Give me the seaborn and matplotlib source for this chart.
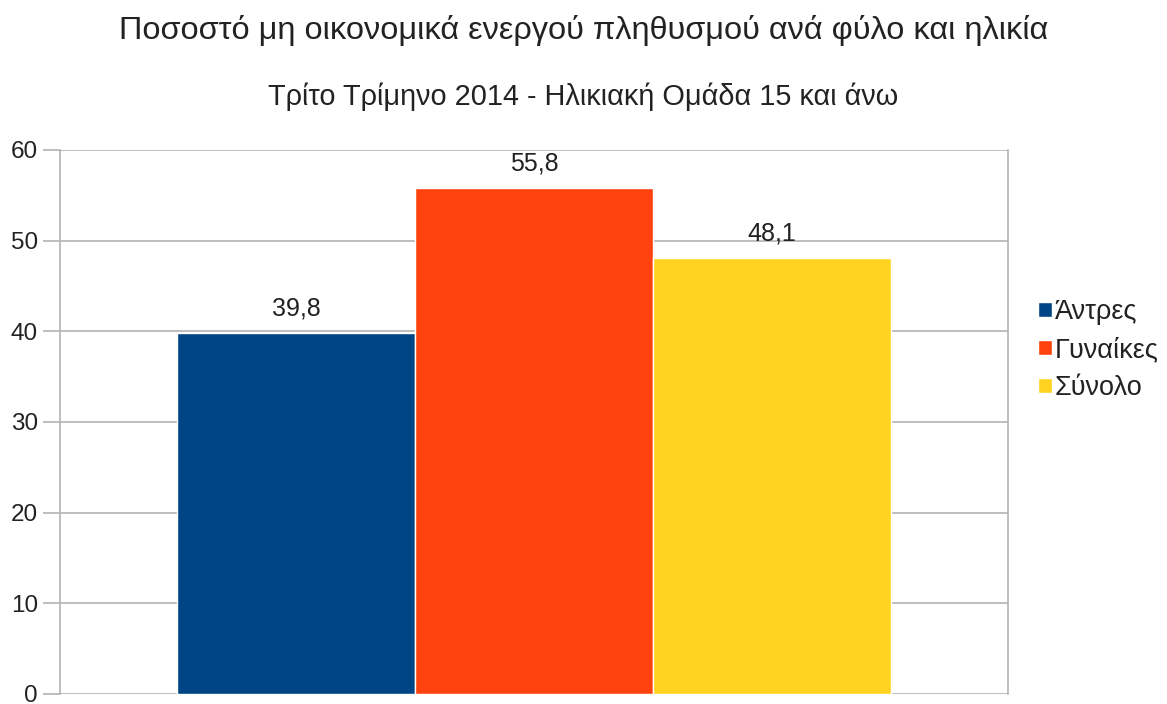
import pandas as pd
import matplotlib.pyplot as plt
import seaborn as sns

sns.set_style("white")
plt.rcParams['font.family'] = ['Liberation Sans', 'DejaVu Sans']

# data
group = ["Τρίτο Τρίμηνο 2014"]
series = ["Άντρες", "Γυναίκες", "Σύνολο"]
values = [39.8, 55.8, 48.1]
colors = ["#004586", "#ff420e", "#ffd320"]

df = pd.DataFrame({
    "Ομάδα": group * len(series),
    "Φύλο": series,
    "Ποσοστό": values,
})

fig = plt.figure(figsize=(11.67, 7.04), dpi=100)
ax = fig.add_axes([60 / 1167, 10 / 704, 948 / 1167, 544 / 704])

sns.barplot(data=df, x="Ομάδα", y="Ποσοστό", hue="Φύλο", palette=colors,
            width=0.753, gap=0, saturation=1, ax=ax, errorbar=None)

for cont, v in zip(ax.containers, values):
    ax.bar_label(cont, labels=[f"{v:.1f}".replace(".", ",")], padding=9,
                 fontsize=18, color="#222222")

ax.set_ylim(0, 60)
ax.set_yticks(range(0, 61, 10))
ax.set_xticks([])
ax.set_xlabel("")
ax.set_ylabel("")
ax.yaxis.grid(True, color="#b3b3b3", linewidth=1.2)
ax.set_axisbelow(True)
for s in ["left", "right"]:
    ax.spines[s].set_color("#b3b3b3")
    ax.spines[s].set_linewidth(1.2)
ax.spines["top"].set_visible(False)
ax.spines["bottom"].set_visible(False)
ax.tick_params(axis="y", left=True, length=12, width=1.2, color="#b3b3b3",
               labelsize=17.5, labelcolor="#222222", pad=4)

ax.legend(loc="center left", bbox_to_anchor=(1.032, 0.632), frameon=False,
          fontsize=19.5, handlelength=0.5, handleheight=0.5, handletextpad=0.1,
          labelspacing=0.44, labelcolor="#222222", borderaxespad=0, borderpad=0)

fig.text(0.5, 1 - 30 / 704, "Ποσοστό μη οικονομικά ενεργού πληθυσμού ανά φύλο και ηλικία",
         ha="center", va="center", fontsize=23.4, color="#222222")
fig.text(0.5, 1 - 97 / 704, "Τρίτο Τρίμηνο 2014 - Ηλικιακή Ομάδα 15 και άνω",
         ha="center", va="center", fontsize=20.8, color="#222222")

fig.savefig("out.png", dpi=100)
